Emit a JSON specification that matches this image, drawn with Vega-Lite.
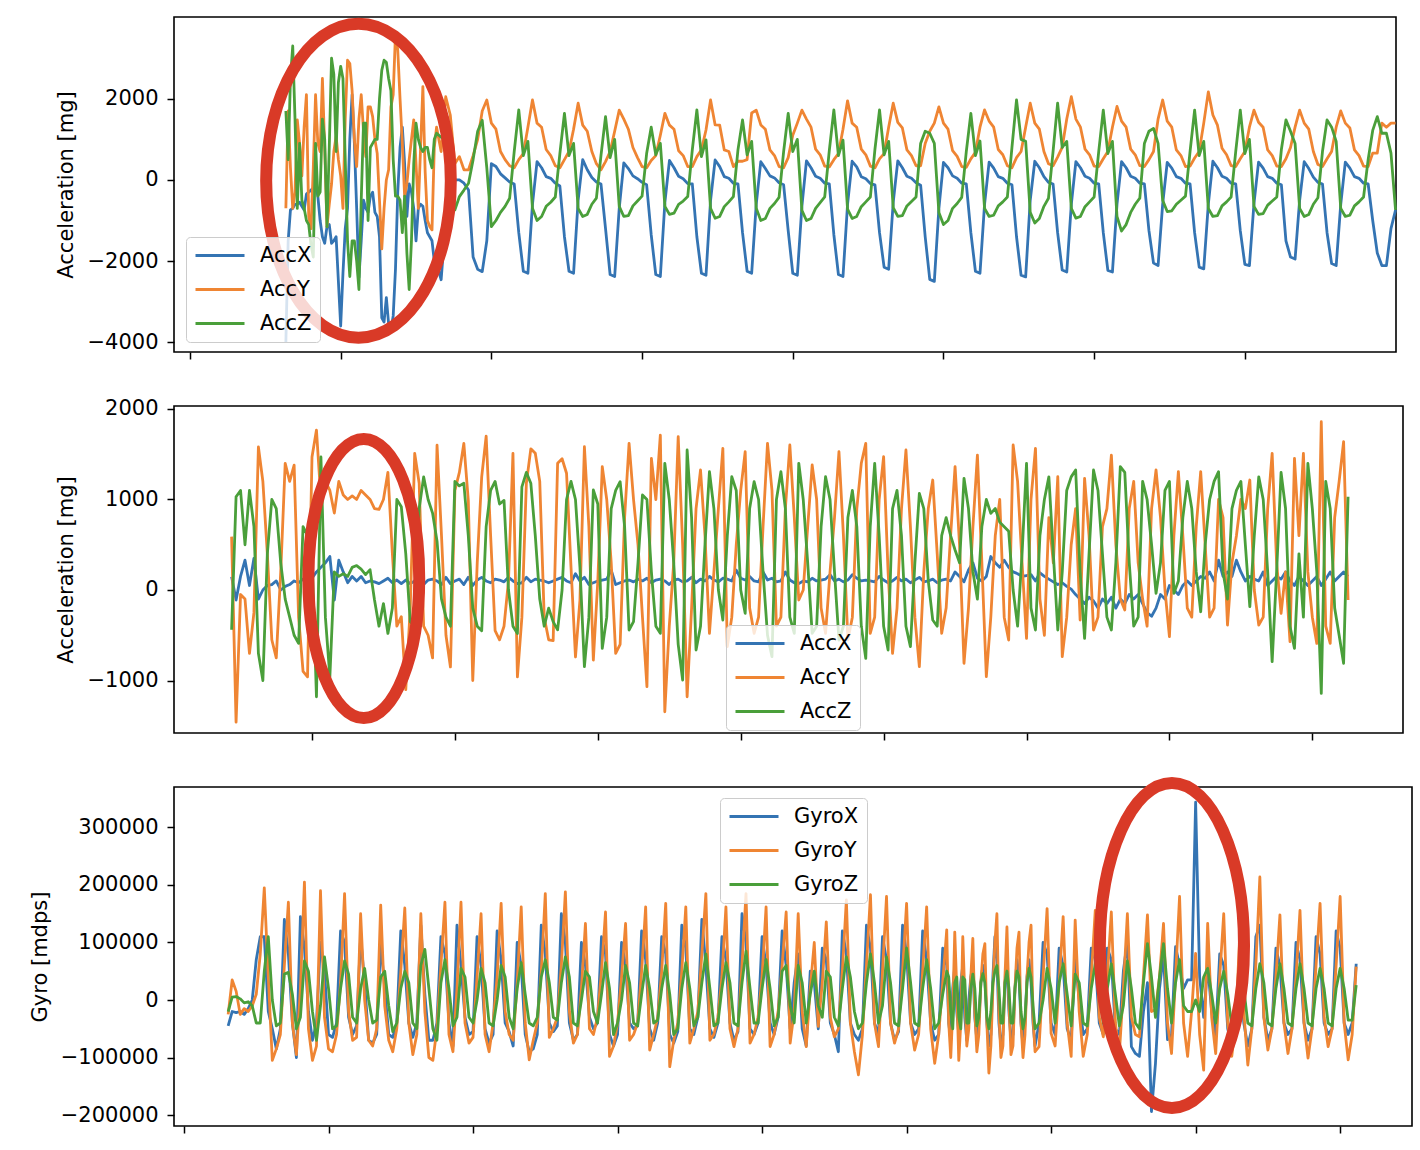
{
  "$schema": "https://vega.github.io/schema/vega-lite/v6.json",
  "padding": {"left": 28, "top": 16, "right": 5, "bottom": 5},
  "background": "white",
  "config": {
    "font": "DejaVu Sans",
    "view": {"stroke": "black", "strokeWidth": 1.6},
    "axis": {
      "grid": false, "domain": false,
      "tickColor": "black", "tickWidth": 1.5, "tickSize": 7,
      "labelColor": "black", "labelFontSize": 21, "labelPadding": 9,
      "titleColor": "black", "titleFontSize": 21, "titleFontWeight": "normal", "titlePadding": 10
    },
    "legend": {
      "symbolType": "stroke", "symbolSize": 2401, "symbolStrokeWidth": 3.5,
      "labelFontSize": 21, "labelColor": "black", "labelOffset": 14,
      "clipHeight": 21, "rowPadding": 12, "padding": 8,
      "fillColor": "rgba(255,255,255,0.8)", "strokeColor": "#cccccc", "cornerRadius": 4
    },
    "line": {"strokeWidth": 2.8, "strokeJoin": "round"}
  },
  "datasets": {
    "p1": [
      {"t":21,"X":-4000,"Y":-700,"Z":1700},{"t":21.5,"X":-1500,"Y":1700,"Z":500},{"t":22,"X":-739,"Y":300,"Z":2500},{"t":22.5,"X":-700,"Y":-700,"Z":3300},
      {"t":23,"X":-600,"Y":-300,"Z":1500},{"t":23.5,"X":-600,"Y":1480,"Z":-700},{"t":24,"X":-550,"Y":900,"Z":900},{"t":24.5,"X":-650,"Y":100,"Z":-500},
      {"t":25,"X":-739,"Y":1300,"Z":-700},{"t":25.5,"X":-350,"Y":2100,"Z":-1000},{"t":26,"X":-300,"Y":-900,"Z":-1100},{"t":26.5,"X":-250,"Y":-1200,"Z":-1600},
      {"t":27,"X":-200,"Y":300,"Z":-1900},{"t":27.5,"X":-100,"Y":2100,"Z":900},{"t":28,"X":-400,"Y":900,"Z":-400},{"t":28.5,"X":-1000,"Y":700,"Z":-300},
      {"t":29,"X":-1400,"Y":2500,"Z":1500},{"t":29.5,"X":-1560,"Y":800,"Z":1000},{"t":30,"X":-1150,"Y":-1150,"Z":-1150},{"t":30.5,"X":-1100,"Y":-600,"Z":800},
      {"t":31,"X":-1560,"Y":-100,"Z":3000},{"t":31.5,"X":-1500,"Y":700,"Z":2600},{"t":32,"X":-1400,"Y":1070,"Z":700},{"t":32.5,"X":-2500,"Y":500,"Z":2400},
      {"t":33,"X":-3600,"Y":100,"Z":2800},{"t":33.5,"X":-2300,"Y":-700,"Z":2500},{"t":34,"X":-1200,"Y":1500,"Z":500},{"t":34.5,"X":-700,"Y":2950,"Z":-1500},
      {"t":35,"X":1000,"Y":2870,"Z":-2380},{"t":35.5,"X":2100,"Y":2200,"Z":-1500},{"t":36,"X":900,"Y":1000,"Z":-1500},{"t":36.5,"X":-700,"Y":330,"Z":-2000},
      {"t":37,"X":-2400,"Y":1500,"Z":-2700},{"t":37.5,"X":-1500,"Y":2100,"Z":-500},{"t":38,"X":-500,"Y":1200,"Z":1400},{"t":38.5,"X":-700,"Y":575,"Z":1400},
      {"t":39,"X":-800,"Y":1800,"Z":-1000},{"t":39.5,"X":-400,"Y":1800,"Z":800},{"t":40,"X":-300,"Y":1560,"Z":900},{"t":40.5,"X":-800,"Y":1000,"Z":1000},
      {"t":41,"X":-900,"Y":650,"Z":1000},{"t":41.5,"X":-1400,"Y":-500,"Z":2000},{"t":42,"X":-3400,"Y":-1700,"Z":2700},{"t":42.5,"X":-3500,"Y":-700,"Z":2950},
      {"t":43,"X":-2900,"Y":0,"Z":2900},{"t":43.5,"X":-3550,"Y":250,"Z":2500},{"t":44,"X":-3700,"Y":1800,"Z":2200},{"t":44.5,"X":-3350,"Y":2100,"Z":500},
      {"t":45,"X":-2200,"Y":3600,"Z":-400},{"t":45.5,"X":-300,"Y":3200,"Z":-400},{"t":46,"X":800,"Y":2000,"Z":-500},{"t":46.5,"X":1300,"Y":900,"Z":-1300},
      {"t":47,"X":400,"Y":-400,"Z":-400},{"t":47.5,"X":-900,"Y":-100,"Z":-1800},{"t":48,"X":-100,"Y":500,"Z":-2700},{"t":48.5,"X":-300,"Y":1000,"Z":-1500},
      {"t":49,"X":-700,"Y":1480,"Z":400},{"t":49.5,"X":-1500,"Y":400,"Z":1400},{"t":50,"X":-700,"Y":-700,"Z":1000},{"t":50.5,"X":-600,"Y":800,"Z":800},
      {"t":51,"X":-650,"Y":2300,"Z":700},{"t":51.5,"X":-1000,"Y":200,"Z":800},{"t":52,"X":-1300,"Y":-1000,"Z":800},{"t":52.5,"X":-1400,"Y":-1150,"Z":500},
      {"t":53,"X":-1500,"Y":-1230,"Z":300},{"t":53.5,"X":-2000,"Y":800,"Z":1000},{"t":54,"X":-2050,"Y":1300,"Z":1150},
      {"t":55,"X":-2460,"Y":700,"Z":1050},{"t":56,"X":-1000,"Y":2050,"Z":1000},{"t":57,"X":0,"Y":1600,"Z":200},{"t":58,"X":0,"Y":400,"Z":-740},
      {"t":59,"X":0,"Y":575,"Z":-410},{"t":60,"X":-80,"Y":250,"Z":-250},
      {"t":61,"X":-250,"Y":250,"Z":-80},{"t":62,"X":-1900,"Y":600,"Z":500},{"t":63,"X":-2200,"Y":1000,"Z":1200},{"t":64,"X":-2260,"Y":1700,"Z":1470},
      {"t":65,"X":-1500,"Y":1970,"Z":300},{"t":66,"X":400,"Y":1400,"Z":-1150},{"t":67,"X":330,"Y":1250,"Z":-1000},{"t":68,"X":150,"Y":700,"Z":-800},
      {"t":69,"X":50,"Y":500,"Z":-650},{"t":70,"X":-50,"Y":350,"Z":-450},
      {"t":71,"X":-100,"Y":300,"Z":700},{"t":72,"X":-1300,"Y":500,"Z":1724},{"t":73,"X":-2250,"Y":650,"Z":600},{"t":74,"X":-2300,"Y":1300,"Z":950},
      {"t":75,"X":-600,"Y":1970,"Z":-700},{"t":76,"X":450,"Y":1400,"Z":-1000},{"t":77,"X":300,"Y":1300,"Z":-900},{"t":78,"X":80,"Y":750,"Z":-650},
      {"t":79,"X":40,"Y":600,"Z":-550},{"t":80,"X":-80,"Y":350,"Z":-420},
      {"t":81,"X":-150,"Y":300,"Z":650},{"t":82,"X":-1400,"Y":500,"Z":1640},{"t":83,"X":-2250,"Y":700,"Z":600},{"t":84,"X":-2300,"Y":1250,"Z":900},
      {"t":85,"X":-500,"Y":1890,"Z":-700},{"t":86,"X":500,"Y":1350,"Z":-900},{"t":87,"X":250,"Y":1200,"Z":-850},{"t":88,"X":60,"Y":700,"Z":-600},
      {"t":89,"X":-50,"Y":400,"Z":-450},
      {"t":90,"X":-100,"Y":250,"Z":600},{"t":91,"X":-1200,"Y":450,"Z":1560},{"t":92,"X":-2330,"Y":700,"Z":550},{"t":93,"X":-2380,"Y":1200,"Z":1000},
      {"t":94,"X":-700,"Y":1720,"Z":-650},{"t":95,"X":420,"Y":1500,"Z":-900},{"t":96,"X":280,"Y":1250,"Z":-880},{"t":97,"X":100,"Y":800,"Z":-640},
      {"t":98,"X":30,"Y":550,"Z":-520},{"t":99,"X":-60,"Y":330,"Z":-400},
      {"t":100,"X":-120,"Y":300,"Z":650},{"t":101,"X":-1350,"Y":480,"Z":1300},{"t":102,"X":-2330,"Y":600,"Z":620},{"t":103,"X":-2380,"Y":1100,"Z":900},
      {"t":104,"X":-550,"Y":1640,"Z":-650},{"t":105,"X":480,"Y":1350,"Z":-850},{"t":106,"X":300,"Y":1250,"Z":-820},{"t":107,"X":90,"Y":720,"Z":-600},
      {"t":108,"X":30,"Y":600,"Z":-520},{"t":109,"X":-90,"Y":330,"Z":-410},
      {"t":110,"X":-100,"Y":330,"Z":740},{"t":111,"X":-1400,"Y":575,"Z":1724},{"t":112,"X":-2300,"Y":740,"Z":575},{"t":113,"X":-2350,"Y":1230,"Z":985},
      {"t":114,"X":-500,"Y":1970,"Z":-700},{"t":115,"X":493,"Y":1355,"Z":-944},{"t":116,"X":328,"Y":1350,"Z":-900},{"t":117,"X":82,"Y":740,"Z":-657},
      {"t":118,"X":41,"Y":700,"Z":-540},{"t":119,"X":-82,"Y":330,"Z":-410},
      {"t":120,"X":-100,"Y":460,"Z":740},{"t":121,"X":-1300,"Y":460,"Z":1478},{"t":122,"X":-2250,"Y":500,"Z":620},{"t":123,"X":-2300,"Y":1650,"Z":950},
      {"t":124,"X":-600,"Y":1720,"Z":-700},{"t":125,"X":450,"Y":1355,"Z":-1000},{"t":126,"X":280,"Y":1250,"Z":-950},{"t":127,"X":100,"Y":740,"Z":-700},
      {"t":128,"X":50,"Y":600,"Z":-580},{"t":129,"X":-70,"Y":330,"Z":-430},
      {"t":130,"X":-120,"Y":300,"Z":700},{"t":131,"X":-1250,"Y":550,"Z":1640},{"t":132,"X":-2300,"Y":1100,"Z":700},{"t":133,"X":-2350,"Y":1400,"Z":1000},
      {"t":134,"X":-650,"Y":1720,"Z":-750},{"t":135,"X":470,"Y":1500,"Z":-1000},{"t":136,"X":300,"Y":1300,"Z":-950},{"t":137,"X":90,"Y":760,"Z":-700},
      {"t":138,"X":40,"Y":620,"Z":-560},{"t":139,"X":-80,"Y":340,"Z":-420},
      {"t":140,"X":-100,"Y":320,"Z":720},{"t":141,"X":-1350,"Y":500,"Z":1724},{"t":142,"X":-2330,"Y":650,"Z":600},{"t":143,"X":-2380,"Y":1250,"Z":980},
      {"t":144,"X":-600,"Y":1950,"Z":-720},{"t":145,"X":460,"Y":1400,"Z":-950},{"t":146,"X":320,"Y":1300,"Z":-900},{"t":147,"X":80,"Y":760,"Z":-660},
      {"t":148,"X":30,"Y":620,"Z":-540},{"t":149,"X":-90,"Y":340,"Z":-420},
      {"t":150,"X":-120,"Y":300,"Z":760},{"t":151,"X":-1300,"Y":520,"Z":1724},{"t":152,"X":-2150,"Y":650,"Z":620},{"t":153,"X":-2200,"Y":1300,"Z":950},
      {"t":154,"X":-550,"Y":1890,"Z":-680},{"t":155,"X":470,"Y":1420,"Z":-900},{"t":156,"X":300,"Y":1280,"Z":-880},{"t":157,"X":90,"Y":740,"Z":-640},
      {"t":158,"X":40,"Y":600,"Z":-530},{"t":159,"X":-70,"Y":350,"Z":-420},
      {"t":160,"X":-130,"Y":350,"Z":900},{"t":161,"X":-1400,"Y":900,"Z":1200},{"t":162,"X":-2450,"Y":1200,"Z":1150},{"t":163,"X":-2500,"Y":1400,"Z":900},
      {"t":164,"X":-700,"Y":1800,"Z":-800},{"t":165,"X":430,"Y":1400,"Z":-1100},{"t":166,"X":300,"Y":1250,"Z":-1000},{"t":167,"X":100,"Y":720,"Z":-700},
      {"t":168,"X":40,"Y":580,"Z":-580},{"t":169,"X":-80,"Y":330,"Z":-430},
      {"t":170,"X":-100,"Y":310,"Z":700},{"t":171,"X":-1300,"Y":520,"Z":1640},{"t":172,"X":-2250,"Y":680,"Z":600},{"t":173,"X":-2300,"Y":1300,"Z":960},
      {"t":174,"X":-600,"Y":1725,"Z":-700},{"t":175,"X":440,"Y":1450,"Z":-900},{"t":176,"X":290,"Y":1300,"Z":-870},{"t":177,"X":80,"Y":750,"Z":-640},
      {"t":178,"X":40,"Y":620,"Z":-540},{"t":179,"X":-80,"Y":350,"Z":-420},
      {"t":180,"X":-120,"Y":300,"Z":800},{"t":181,"X":-1400,"Y":550,"Z":1970},{"t":182,"X":-2350,"Y":700,"Z":1000},{"t":183,"X":-2390,"Y":1300,"Z":950},
      {"t":184,"X":-500,"Y":1890,"Z":-800},{"t":185,"X":460,"Y":1400,"Z":-1060},{"t":186,"X":300,"Y":1250,"Z":-950},{"t":187,"X":80,"Y":700,"Z":-650},
      {"t":188,"X":-60,"Y":400,"Z":-450},
      {"t":189,"X":-100,"Y":350,"Z":700},{"t":190,"X":-1300,"Y":560,"Z":1890},{"t":191,"X":-2220,"Y":800,"Z":800},{"t":192,"X":-2270,"Y":1500,"Z":950},
      {"t":193,"X":-600,"Y":2050,"Z":-700},{"t":194,"X":450,"Y":1500,"Z":-940},{"t":195,"X":300,"Y":1300,"Z":-900},{"t":196,"X":90,"Y":760,"Z":-660},
      {"t":197,"X":40,"Y":620,"Z":-540},{"t":198,"X":-80,"Y":340,"Z":-420},
      {"t":199,"X":-100,"Y":330,"Z":700},{"t":200,"X":-1300,"Y":520,"Z":1720},{"t":201,"X":-2230,"Y":700,"Z":650},{"t":202,"X":-2270,"Y":1300,"Z":950},
      {"t":203,"X":-600,"Y":1810,"Z":-900},{"t":204,"X":450,"Y":1450,"Z":-1260},{"t":205,"X":300,"Y":1300,"Z":-1100},{"t":206,"X":90,"Y":760,"Z":-800},
      {"t":207,"X":40,"Y":620,"Z":-600},{"t":208,"X":-80,"Y":350,"Z":-450},
      {"t":209,"X":-100,"Y":330,"Z":900},{"t":210,"X":-1250,"Y":500,"Z":1200},{"t":211,"X":-2050,"Y":700,"Z":1270},{"t":212,"X":-2110,"Y":1500,"Z":900},
      {"t":213,"X":-600,"Y":1970,"Z":-500},{"t":214,"X":430,"Y":1450,"Z":-780},{"t":215,"X":290,"Y":1300,"Z":-760},{"t":216,"X":80,"Y":740,"Z":-600},
      {"t":217,"X":40,"Y":600,"Z":-500},{"t":218,"X":-80,"Y":330,"Z":-400},
      {"t":219,"X":-100,"Y":340,"Z":700},{"t":220,"X":-1300,"Y":540,"Z":1720},{"t":221,"X":-2150,"Y":700,"Z":600},{"t":222,"X":-2190,"Y":1400,"Z":950},
      {"t":223,"X":-600,"Y":2170,"Z":-700},{"t":224,"X":460,"Y":1600,"Z":-900},{"t":225,"X":300,"Y":1350,"Z":-880},{"t":226,"X":90,"Y":780,"Z":-640},
      {"t":227,"X":40,"Y":620,"Z":-540},{"t":228,"X":-80,"Y":350,"Z":-420},
      {"t":229,"X":-100,"Y":330,"Z":700},{"t":230,"X":-1250,"Y":520,"Z":1720},{"t":231,"X":-2080,"Y":700,"Z":650},{"t":232,"X":-2110,"Y":1300,"Z":1000},
      {"t":233,"X":-580,"Y":1720,"Z":-650},{"t":234,"X":440,"Y":1420,"Z":-850},{"t":235,"X":290,"Y":1300,"Z":-830},{"t":236,"X":80,"Y":740,"Z":-620},
      {"t":237,"X":40,"Y":600,"Z":-520},{"t":238,"X":-80,"Y":340,"Z":-420},
      {"t":239,"X":-120,"Y":330,"Z":750},{"t":240,"X":-1500,"Y":520,"Z":1480},{"t":241,"X":-1900,"Y":800,"Z":1200},{"t":242,"X":-1950,"Y":1300,"Z":900},
      {"t":243,"X":-500,"Y":1720,"Z":-700},{"t":244,"X":450,"Y":1400,"Z":-900},{"t":245,"X":280,"Y":1250,"Z":-850},{"t":246,"X":70,"Y":700,"Z":-600},
      {"t":247,"X":-60,"Y":380,"Z":-440},
      {"t":248,"X":-100,"Y":330,"Z":700},{"t":249,"X":-1300,"Y":520,"Z":1480},{"t":250,"X":-2060,"Y":700,"Z":1300},{"t":251,"X":-2110,"Y":1300,"Z":950},
      {"t":252,"X":-600,"Y":1700,"Z":-700},{"t":253,"X":440,"Y":1400,"Z":-900},{"t":254,"X":290,"Y":1280,"Z":-870},{"t":255,"X":80,"Y":740,"Z":-640},
      {"t":256,"X":40,"Y":600,"Z":-540},{"t":257,"X":-80,"Y":340,"Z":-420},
      {"t":258,"X":-100,"Y":330,"Z":500},{"t":259,"X":-1000,"Y":660,"Z":1220},{"t":260,"X":-1800,"Y":660,"Z":1560},{"t":261,"X":-2110,"Y":1400,"Z":1150},
      {"t":262,"X":-2110,"Y":1300,"Z":1150},{"t":263,"X":-1200,"Y":1400,"Z":660},{"t":264,"X":-740,"Y":1400,"Z":-740}
    ],
    "p2": [
      {"t":14,"X":147,"Y":590,"Z":-440},{"t":15,"X":-111,"Y":-1460,"Z":1030},{"t":16,"X":150,"Y":-50,"Z":1100},{"t":17,"X":330,"Y":-100,"Z":500},
      {"t":18,"X":50,"Y":-700,"Z":1100},{"t":19,"X":350,"Y":-250,"Z":700},{"t":20,"X":-100,"Y":1580,"Z":-700},{"t":21,"X":0,"Y":1200,"Z":-1000},
      {"t":22,"X":50,"Y":400,"Z":400},{"t":23,"X":60,"Y":-550,"Z":1000},{"t":24,"X":100,"Y":-750,"Z":900},{"t":25,"X":0,"Y":200,"Z":300},
      {"t":26,"X":40,"Y":1400,"Z":-100},{"t":27,"X":60,"Y":1200,"Z":-300},{"t":28,"X":100,"Y":1380,"Z":-500},{"t":29,"X":80,"Y":-300,"Z":-590},
      {"t":30,"X":120,"Y":-900,"Z":700},{"t":31,"X":150,"Y":-960,"Z":600},{"t":32,"X":130,"Y":1470,"Z":400},{"t":33,"X":200,"Y":1767,"Z":-1180},
      {"t":34,"X":250,"Y":1000,"Z":1470},{"t":35,"X":300,"Y":1200,"Z":-300},{"t":36,"X":370,"Y":1100,"Z":-960},{"t":37,"X":-111,"Y":850,"Z":200},
      {"t":38,"X":330,"Y":1200,"Z":150},{"t":39,"X":200,"Y":1050,"Z":180},{"t":40,"X":80,"Y":1000,"Z":150},{"t":41,"X":150,"Y":1040,"Z":250},
      {"t":42,"X":100,"Y":1000,"Z":270},{"t":43,"X":150,"Y":1100,"Z":230},{"t":44,"X":80,"Y":1050,"Z":170},{"t":45,"X":100,"Y":1000,"Z":225},
      {"t":46,"X":90,"Y":900,"Z":-111},{"t":47,"X":70,"Y":890,"Z":-400},{"t":48,"X":100,"Y":1000,"Z":-150},{"t":49,"X":130,"Y":1300,"Z":-480},
      {"t":50,"X":80,"Y":400,"Z":-200},{"t":51,"X":110,"Y":-400,"Z":1000},{"t":52,"X":70,"Y":-295,"Z":920},{"t":53,"X":110,"Y":-1100,"Z":400},
      {"t":54,"X":70,"Y":-200,"Z":-350},{"t":55,"X":100,"Y":1510,"Z":-400},{"t":56,"X":180,"Y":1180,"Z":900},{"t":57,"X":60,"Y":-400,"Z":1250},
      {"t":58,"X":110,"Y":-500,"Z":1000},{"t":59,"X":120,"Y":-750,"Z":850},{"t":60,"X":100,"Y":1600,"Z":540},{"t":61,"X":60,"Y":600,"Z":-100},
      {"t":62,"X":140,"Y":-500,"Z":-300},{"t":63,"X":70,"Y":-850,"Z":-400},{"t":64,"X":100,"Y":1100,"Z":1200},{"t":65,"X":120,"Y":1300,"Z":1150},
      {"t":66,"X":60,"Y":1620,"Z":1180},{"t":67,"X":140,"Y":990,"Z":600},{"t":68,"X":50,"Y":-1000,"Z":-200},{"t":69,"X":110,"Y":300,"Z":-400},
      {"t":70,"X":140,"Y":1250,"Z":-450},{"t":71,"X":100,"Y":1700,"Z":700},{"t":72,"X":80,"Y":600,"Z":1100},{"t":73,"X":120,"Y":-450,"Z":1200},
      {"t":74,"X":110,"Y":-550,"Z":950},{"t":75,"X":90,"Y":-400,"Z":990},{"t":76,"X":140,"Y":100,"Z":0},{"t":77,"X":100,"Y":1510,"Z":-400},
      {"t":78,"X":70,"Y":-960,"Z":-480},{"t":79,"X":80,"Y":-300,"Z":1140},{"t":80,"X":140,"Y":1180,"Z":1300},{"t":81,"X":90,"Y":1560,"Z":1180},
      {"t":82,"X":120,"Y":1510,"Z":600},{"t":83,"X":110,"Y":1200,"Z":-100},{"t":84,"X":100,"Y":-300,"Z":-400},{"t":85,"X":80,"Y":-550,"Z":-200},
      {"t":86,"X":100,"Y":-560,"Z":-350},{"t":87,"X":120,"Y":1400,"Z":-440},{"t":88,"X":140,"Y":1450,"Z":0},{"t":89,"X":100,"Y":1290,"Z":1000},
      {"t":90,"X":80,"Y":250,"Z":1200},{"t":91,"X":180,"Y":-740,"Z":1000},{"t":92,"X":100,"Y":-111,"Z":250},{"t":93,"X":140,"Y":1583,"Z":-847},
      {"t":94,"X":60,"Y":700,"Z":-300},{"t":95,"X":80,"Y":-774,"Z":1105},{"t":96,"X":100,"Y":100,"Z":950},{"t":97,"X":110,"Y":1363,"Z":-645},
      {"t":98,"X":120,"Y":1000,"Z":-300},{"t":99,"X":220,"Y":300,"Z":900},{"t":100,"X":60,"Y":-700,"Z":1100},{"t":101,"X":80,"Y":-600,"Z":1197},
      {"t":102,"X":100,"Y":800,"Z":700},{"t":103,"X":110,"Y":1620,"Z":-442},{"t":104,"X":90,"Y":1000,"Z":-350},{"t":105,"X":120,"Y":500,"Z":300},
      {"t":106,"X":100,"Y":-300,"Z":1050},{"t":107,"X":130,"Y":-1068,"Z":1000},{"t":108,"X":80,"Y":1454,"Z":200},{"t":109,"X":110,"Y":1000,"Z":-400},
      {"t":110,"X":120,"Y":1712,"Z":-479},{"t":111,"X":100,"Y":-1345,"Z":1400},{"t":112,"X":60,"Y":-400,"Z":1000},{"t":113,"X":110,"Y":300,"Z":300},
      {"t":114,"X":120,"Y":1694,"Z":-600},{"t":115,"X":90,"Y":500,"Z":-995},{"t":116,"X":100,"Y":-1180,"Z":1547},{"t":117,"X":140,"Y":-200,"Z":800},
      {"t":118,"X":80,"Y":900,"Z":-663},{"t":119,"X":120,"Y":1326,"Z":-400},{"t":120,"X":100,"Y":600,"Z":500},{"t":121,"X":150,"Y":-479,"Z":1307},
      {"t":122,"X":110,"Y":200,"Z":900},{"t":123,"X":90,"Y":900,"Z":0},{"t":124,"X":130,"Y":1565,"Z":-332},{"t":125,"X":120,"Y":-626,"Z":600},
      {"t":126,"X":100,"Y":-300,"Z":1252},{"t":127,"X":220,"Y":500,"Z":1100},{"t":128,"X":130,"Y":1100,"Z":0},{"t":129,"X":110,"Y":1528,"Z":-258},
      {"t":130,"X":150,"Y":-200,"Z":900},{"t":131,"X":100,"Y":-479,"Z":1197},{"t":132,"X":90,"Y":-300,"Z":1000},{"t":133,"X":200,"Y":700,"Z":200},
      {"t":134,"X":110,"Y":1620,"Z":-500},{"t":135,"X":130,"Y":1100,"Z":-737},{"t":136,"X":90,"Y":-400,"Z":1000},{"t":137,"X":100,"Y":-300,"Z":1307},
      {"t":138,"X":200,"Y":900,"Z":900},{"t":139,"X":110,"Y":1602,"Z":-300},{"t":140,"X":80,"Y":800,"Z":-479},{"t":141,"X":70,"Y":-111,"Z":1400},
      {"t":142,"X":100,"Y":0,"Z":1000},{"t":143,"X":90,"Y":700,"Z":300},{"t":144,"X":130,"Y":1381,"Z":-479},{"t":145,"X":100,"Y":1000,"Z":-400},
      {"t":146,"X":110,"Y":-200,"Z":700},{"t":147,"X":120,"Y":-479,"Z":1252},{"t":148,"X":170,"Y":200,"Z":1000},{"t":149,"X":100,"Y":800,"Z":200},
      {"t":150,"X":120,"Y":1528,"Z":-553},{"t":151,"X":90,"Y":600,"Z":-400},{"t":152,"X":110,"Y":-553,"Z":800},{"t":153,"X":170,"Y":-300,"Z":1100},
      {"t":154,"X":130,"Y":900,"Z":700},{"t":155,"X":100,"Y":1400,"Z":-400},{"t":156,"X":110,"Y":1620,"Z":-755},{"t":157,"X":100,"Y":-479,"Z":700},
      {"t":158,"X":90,"Y":-300,"Z":1400},{"t":159,"X":150,"Y":1000,"Z":600},{"t":160,"X":110,"Y":1473,"Z":-400},{"t":161,"X":80,"Y":200,"Z":-663},
      {"t":162,"X":100,"Y":-700,"Z":900},{"t":163,"X":140,"Y":-200,"Z":1100},{"t":164,"X":100,"Y":900,"Z":600},{"t":165,"X":120,"Y":1547,"Z":-400},
      {"t":166,"X":80,"Y":700,"Z":-626},{"t":167,"X":110,"Y":-300,"Z":300},{"t":168,"X":140,"Y":-847,"Z":1068},{"t":169,"X":90,"Y":200,"Z":900},
      {"t":170,"X":100,"Y":900,"Z":100},{"t":171,"X":120,"Y":1215,"Z":-332},{"t":172,"X":80,"Y":400,"Z":-400},{"t":173,"X":110,"Y":-479,"Z":600},
      {"t":174,"X":120,"Y":-200,"Z":800},{"t":175,"X":100,"Y":600,"Z":600},{"t":176,"X":200,"Y":1363,"Z":442},{"t":177,"X":150,"Y":500,"Z":300},
      {"t":178,"X":90,"Y":-810,"Z":1234},{"t":179,"X":220,"Y":-200,"Z":900},{"t":180,"X":300,"Y":700,"Z":200},{"t":181,"X":130,"Y":1491,"Z":-100},
      {"t":182,"X":100,"Y":300,"Z":700},{"t":183,"X":150,"Y":-958,"Z":1000},{"t":184,"X":370,"Y":-300,"Z":847},{"t":185,"X":300,"Y":600,"Z":900},
      {"t":186,"X":250,"Y":1000,"Z":750},{"t":187,"X":330,"Y":-300,"Z":700},{"t":188,"X":250,"Y":-553,"Z":650},{"t":189,"X":200,"Y":1602,"Z":0},
      {"t":190,"X":180,"Y":1200,"Z":-400},{"t":191,"X":150,"Y":300,"Z":400},{"t":192,"X":160,"Y":-534,"Z":1400},{"t":193,"X":170,"Y":1000,"Z":-200},
      {"t":194,"X":100,"Y":1565,"Z":-442},{"t":195,"X":190,"Y":-100,"Z":600},{"t":196,"X":150,"Y":-500,"Z":1000},{"t":197,"X":120,"Y":800,"Z":1250},
      {"t":198,"X":90,"Y":300,"Z":400},{"t":199,"X":60,"Y":1252,"Z":-442},{"t":200,"X":80,"Y":-737,"Z":200},{"t":201,"X":40,"Y":-300,"Z":1100},
      {"t":202,"X":10,"Y":500,"Z":1250},{"t":203,"X":-50,"Y":900,"Z":1326},{"t":204,"X":-100,"Y":-332,"Z":200},{"t":205,"X":-150,"Y":1234,"Z":-534},
      {"t":206,"X":-80,"Y":600,"Z":400},{"t":207,"X":-120,"Y":-442,"Z":1326},{"t":208,"X":-200,"Y":-300,"Z":1100},{"t":209,"X":-100,"Y":700,"Z":400},
      {"t":210,"X":-150,"Y":900,"Z":-300},{"t":211,"X":-80,"Y":1491,"Z":-442},{"t":212,"X":-200,"Y":500,"Z":300},{"t":213,"X":-100,"Y":-100,"Z":1363},
      {"t":214,"X":-150,"Y":-221,"Z":1300},{"t":215,"X":-50,"Y":900,"Z":300},{"t":216,"X":-100,"Y":1200,"Z":-400},{"t":217,"X":-50,"Y":300,"Z":-300},
      {"t":218,"X":-150,"Y":-100,"Z":1200},{"t":219,"X":-250,"Y":-400,"Z":1000},{"t":220,"X":-290,"Y":900,"Z":500},{"t":221,"X":-200,"Y":1326,"Z":-37},
      {"t":222,"X":-50,"Y":800,"Z":300},{"t":223,"X":-100,"Y":0,"Z":1100},{"t":224,"X":50,"Y":-516,"Z":1200},{"t":225,"X":0,"Y":600,"Z":-37},
      {"t":226,"X":-50,"Y":1307,"Z":100},{"t":227,"X":50,"Y":600,"Z":800},{"t":228,"X":100,"Y":-200,"Z":1200},{"t":229,"X":50,"Y":-300,"Z":900},
      {"t":230,"X":100,"Y":700,"Z":200},{"t":231,"X":150,"Y":1307,"Z":-240},{"t":232,"X":130,"Y":500,"Z":500},{"t":233,"X":200,"Y":-300,"Z":1000},
      {"t":234,"X":100,"Y":-200,"Z":1200},{"t":235,"X":330,"Y":1000,"Z":1307},{"t":236,"X":150,"Y":800,"Z":200},{"t":237,"X":200,"Y":-387,"Z":-100},
      {"t":238,"X":150,"Y":300,"Z":900},{"t":239,"X":330,"Y":600,"Z":1100},{"t":240,"X":200,"Y":1000,"Z":1200},{"t":241,"X":100,"Y":900,"Z":500},
      {"t":242,"X":150,"Y":1215,"Z":-184},{"t":243,"X":120,"Y":0,"Z":600},{"t":244,"X":100,"Y":-387,"Z":1250},{"t":245,"X":200,"Y":-300,"Z":1000},
      {"t":246,"X":50,"Y":900,"Z":200},{"t":247,"X":100,"Y":1510,"Z":-792},{"t":248,"X":150,"Y":300,"Z":200},{"t":249,"X":120,"Y":-258,"Z":1300},
      {"t":250,"X":200,"Y":200,"Z":900},{"t":251,"X":100,"Y":-571,"Z":-400},{"t":252,"X":50,"Y":1454,"Z":-645},{"t":253,"X":150,"Y":600,"Z":400},
      {"t":254,"X":100,"Y":1510,"Z":-300},{"t":255,"X":50,"Y":200,"Z":1400},{"t":256,"X":100,"Y":-300,"Z":900},{"t":257,"X":150,"Y":-590,"Z":200},
      {"t":258,"X":50,"Y":1860,"Z":-1142},{"t":259,"X":120,"Y":-400,"Z":1200},{"t":260,"X":200,"Y":-590,"Z":900},{"t":261,"X":100,"Y":800,"Z":-200},
      {"t":262,"X":150,"Y":1200,"Z":-500},{"t":263,"X":200,"Y":1639,"Z":-810},{"t":264,"X":150,"Y":-111,"Z":1031}
    ],
    "p3": [
      {"t":11,"X":-45000,"Y":-25000,"Z":-20000},{"t":12,"X":-20000,"Y":35000,"Z":5000},{"t":13,"X":-22000,"Y":15000,"Z":6000},{"t":14,"X":-20000,"Y":-25000,"Z":2000},
      {"t":15,"X":-25000,"Y":-15000,"Z":-5000},{"t":16,"X":-15000,"Y":-20000,"Z":-3000},{"t":17,"X":0,"Y":-10000,"Z":-10000},{"t":18,"X":70000,"Y":10000,"Z":-40000},
      {"t":19,"X":110000,"Y":80000,"Z":-40000},{"t":20,"X":110000,"Y":195000,"Z":50000},{"t":21,"X":-20000,"Y":40000,"Z":110000},{"t":22,"X":-50000,"Y":-105000,"Z":0},
      {"t":23,"X":-85000,"Y":-85000,"Z":-45000},{"t":24,"X":-50000,"Y":-60000,"Z":-40000},{"t":25,"X":140000,"Y":60000,"Z":45000},{"t":26,"X":80000,"Y":170000,"Z":48000},
      {"t":27,"X":-40000,"Y":-40000,"Z":10000},{"t":28,"X":-100000,"Y":-95000,"Z":-50000},{"t":29,"X":145000,"Y":20000,"Z":-30000},{"t":30,"X":90000,"Y":205000,"Z":68000},
      {"t":31,"X":-20000,"Y":-50000,"Z":50000},{"t":32,"X":-70000,"Y":-105000,"Z":-20000},{"t":33,"X":-40000,"Y":-80000,"Z":-70000},{"t":34,"X":100000,"Y":190000,"Z":-10000},
      {"t":35,"X":50000,"Y":-30000,"Z":75000},{"t":36,"X":-60000,"Y":-85000,"Z":20000},{"t":37,"X":-65000,"Y":-90000,"Z":-50000},{"t":38,"X":-40000,"Y":-60000,"Z":-45000},
      {"t":39,"X":120000,"Y":30000,"Z":20000},{"t":40,"X":100000,"Y":185000,"Z":68000},{"t":41,"X":-30000,"Y":-20000,"Z":45000},{"t":42,"X":-60000,"Y":-70000,"Z":-30000},
      {"t":43,"X":-45000,"Y":-65000,"Z":-40000},{"t":44,"X":110000,"Y":150000,"Z":20000},{"t":45,"X":30000,"Y":0,"Z":55000},{"t":46,"X":-70000,"Y":-70000,"Z":0},
      {"t":47,"X":-75000,"Y":-80000,"Z":-40000},{"t":48,"X":-60000,"Y":-50000,"Z":-35000},{"t":49,"X":100000,"Y":165000,"Z":40000},{"t":50,"X":20000,"Y":-10000,"Z":50000},
      {"t":51,"X":-60000,"Y":-70000,"Z":-10000},{"t":52,"X":-65000,"Y":-90000,"Z":-55000},{"t":53,"X":-40000,"Y":-50000,"Z":-40000},{"t":54,"X":120000,"Y":50000,"Z":20000},
      {"t":55,"X":60000,"Y":160000,"Z":50000},{"t":56,"X":-40000,"Y":-40000,"Z":30000},{"t":57,"X":-65000,"Y":-95000,"Z":-40000},{"t":58,"X":-40000,"Y":-60000,"Z":-50000},
      {"t":59,"X":130000,"Y":150000,"Z":60000},{"t":60,"X":10000,"Y":-20000,"Z":88000},{"t":61,"X":-70000,"Y":-100000,"Z":20000},{"t":62,"X":-70000,"Y":-105000,"Z":-50000},
      {"t":63,"X":-40000,"Y":-50000,"Z":-70000},{"t":64,"X":110000,"Y":60000,"Z":30000},{"t":65,"X":80000,"Y":170000,"Z":70000},{"t":66,"X":-40000,"Y":-60000,"Z":20000},
      {"t":67,"X":-80000,"Y":-90000,"Z":-45000},{"t":68,"X":130000,"Y":20000,"Z":-30000},{"t":69,"X":60000,"Y":170000,"Z":55000},{"t":70,"X":-30000,"Y":-40000,"Z":40000},
      {"t":71,"X":-60000,"Y":-75000,"Z":-30000},{"t":72,"X":-55000,"Y":-65000,"Z":-40000},{"t":73,"X":110000,"Y":40000,"Z":0},{"t":74,"X":60000,"Y":150000,"Z":55000},
      {"t":75,"X":-50000,"Y":-60000,"Z":30000},{"t":76,"X":-75000,"Y":-90000,"Z":-40000},{"t":77,"X":-60000,"Y":-40000,"Z":-45000},{"t":78,"X":120000,"Y":40000,"Z":0},
      {"t":79,"X":70000,"Y":168000,"Z":60000},{"t":80,"X":-40000,"Y":-20000,"Z":40000},{"t":81,"X":-55000,"Y":-60000,"Z":-30000},{"t":82,"X":-80000,"Y":-70000,"Z":-50000},
      {"t":83,"X":100000,"Y":30000,"Z":20000},{"t":84,"X":60000,"Y":162000,"Z":65000},{"t":85,"X":-60000,"Y":-40000,"Z":10000},{"t":86,"X":-90000,"Y":-104000,"Z":-40000},
      {"t":87,"X":-85000,"Y":-70000,"Z":-45000},{"t":88,"X":-60000,"Y":-40000,"Z":-30000},{"t":89,"X":130000,"Y":50000,"Z":40000},{"t":90,"X":80000,"Y":185000,"Z":70000},
      {"t":91,"X":-40000,"Y":-65000,"Z":30000},{"t":92,"X":-55000,"Y":-50000,"Z":-30000},{"t":93,"X":-45000,"Y":-30000,"Z":-35000},{"t":94,"X":150000,"Y":60000,"Z":30000},
      {"t":95,"X":100000,"Y":188000,"Z":75000},{"t":96,"X":-40000,"Y":-20000,"Z":40000},{"t":97,"X":-70000,"Y":-75000,"Z":-40000},{"t":98,"X":-60000,"Y":-60000,"Z":-45000},
      {"t":99,"X":100000,"Y":20000,"Z":0},{"t":100,"X":60000,"Y":133000,"Z":50000},{"t":101,"X":-30000,"Y":-50000,"Z":40000},{"t":102,"X":-50000,"Y":-60000,"Z":-20000},
      {"t":103,"X":-40000,"Y":-30000,"Z":-40000},{"t":104,"X":110000,"Y":50000,"Z":10000},{"t":105,"X":80000,"Y":153000,"Z":65000},{"t":106,"X":-60000,"Y":-98000,"Z":20000},
      {"t":107,"X":-80000,"Y":-80000,"Z":-60000},{"t":108,"X":-60000,"Y":-40000,"Z":-40000},{"t":109,"X":100000,"Y":40000,"Z":0},{"t":110,"X":60000,"Y":133000,"Z":60000},
      {"t":111,"X":-40000,"Y":-70000,"Z":30000},{"t":112,"X":-50000,"Y":-60000,"Z":-40000},{"t":113,"X":-45000,"Y":-40000,"Z":-45000},{"t":114,"X":120000,"Y":50000,"Z":10000},
      {"t":115,"X":70000,"Y":162000,"Z":60000},{"t":116,"X":-50000,"Y":-87000,"Z":20000},{"t":117,"X":-70000,"Y":-60000,"Z":-40000},{"t":118,"X":-40000,"Y":-30000,"Z":-35000},
      {"t":119,"X":110000,"Y":50000,"Z":20000},{"t":120,"X":80000,"Y":168000,"Z":60000},{"t":121,"X":-60000,"Y":-116000,"Z":10000},{"t":122,"X":-75000,"Y":-70000,"Z":-60000},
      {"t":123,"X":-55000,"Y":-40000,"Z":-50000},{"t":124,"X":130000,"Y":50000,"Z":20000},{"t":125,"X":90000,"Y":162000,"Z":65000},{"t":126,"X":-50000,"Y":-75000,"Z":20000},
      {"t":127,"X":-60000,"Y":-50000,"Z":-45000},{"t":128,"X":-30000,"Y":-20000,"Z":-30000},{"t":129,"X":140000,"Y":80000,"Z":30000},{"t":130,"X":60000,"Y":185000,"Z":80000},
      {"t":131,"X":-50000,"Y":-70000,"Z":20000},{"t":132,"X":-65000,"Y":-60000,"Z":-45000},{"t":133,"X":-40000,"Y":-30000,"Z":-40000},{"t":134,"X":110000,"Y":40000,"Z":20000},
      {"t":135,"X":70000,"Y":162000,"Z":65000},{"t":136,"X":-40000,"Y":-50000,"Z":30000},{"t":137,"X":-70000,"Y":-81000,"Z":-40000},{"t":138,"X":-55000,"Y":-50000,"Z":-45000},
      {"t":139,"X":150000,"Y":60000,"Z":30000},{"t":140,"X":100000,"Y":185000,"Z":85000},{"t":141,"X":-50000,"Y":-75000,"Z":20000},{"t":142,"X":-60000,"Y":-60000,"Z":-40000},
      {"t":143,"X":-40000,"Y":-30000,"Z":-40000},{"t":144,"X":110000,"Y":40000,"Z":20000},{"t":145,"X":60000,"Y":162000,"Z":70000},{"t":146,"X":-40000,"Y":-81000,"Z":20000},
      {"t":147,"X":-60000,"Y":-60000,"Z":-45000},{"t":148,"X":-30000,"Y":-20000,"Z":-30000},{"t":149,"X":120000,"Y":60000,"Z":50000},{"t":150,"X":60000,"Y":153000,"Z":60000},
      {"t":151,"X":-50000,"Y":-75000,"Z":-10000},{"t":152,"X":30000,"Y":-20000,"Z":-40000},{"t":153,"X":80000,"Y":150000,"Z":60000},{"t":154,"X":-50000,"Y":-20000,"Z":30000},
      {"t":155,"X":-80000,"Y":-81000,"Z":-40000},{"t":156,"X":50000,"Y":20000,"Z":10000},{"t":157,"X":30000,"Y":100000,"Z":50000},{"t":158,"X":-50000,"Y":-46000,"Z":-10000},
      {"t":159,"X":90000,"Y":30000,"Z":-30000},{"t":160,"X":70000,"Y":136000,"Z":50000},{"t":161,"X":-40000,"Y":-30000,"Z":40000},{"t":162,"X":-60000,"Y":-64000,"Z":-30000},
      {"t":163,"X":-90000,"Y":-50000,"Z":-45000},{"t":164,"X":120000,"Y":50000,"Z":20000},{"t":165,"X":80000,"Y":174000,"Z":75000},{"t":166,"X":-40000,"Y":-40000,"Z":40000},
      {"t":167,"X":-60000,"Y":-90000,"Z":-20000},{"t":168,"X":-70000,"Y":-130000,"Z":-50000},{"t":169,"X":-50000,"Y":-60000,"Z":-40000},{"t":170,"X":130000,"Y":60000,"Z":30000},
      {"t":171,"X":90000,"Y":183000,"Z":80000},{"t":172,"X":-40000,"Y":-40000,"Z":30000},{"t":173,"X":-60000,"Y":-81000,"Z":-40000},{"t":174,"X":110000,"Y":50000,"Z":-10000},
      {"t":175,"X":70000,"Y":180000,"Z":75000},{"t":176,"X":-40000,"Y":-40000,"Z":30000},{"t":177,"X":-70000,"Y":-75000,"Z":-40000},{"t":178,"X":-55000,"Y":-50000,"Z":-45000},
      {"t":179,"X":130000,"Y":50000,"Z":20000},{"t":180,"X":80000,"Y":168000,"Z":90000},{"t":181,"X":-40000,"Y":-40000,"Z":30000},{"t":182,"X":-60000,"Y":-87000,"Z":-40000},
      {"t":183,"X":-50000,"Y":-60000,"Z":-45000},{"t":184,"X":120000,"Y":50000,"Z":20000},{"t":185,"X":70000,"Y":162000,"Z":70000},{"t":186,"X":-40000,"Y":-50000,"Z":20000},
      {"t":187,"X":-70000,"Y":-110000,"Z":-50000},{"t":188,"X":-60000,"Y":-60000,"Z":-40000},{"t":189,"X":90000,"Y":30000,"Z":10000},{"t":190,"X":60000,"Y":122000,"Z":50000},
      {"t":190.5,"X":-40000,"Y":-40000,"Z":40000},{"t":191,"X":-70000,"Y":-100000,"Z":-20000},{"t":191.5,"X":20000,"Y":-20000,"Z":-50000},{"t":192,"X":60000,"Y":118000,"Z":30000},
      {"t":192.5,"X":-20000,"Y":20000,"Z":40000},{"t":193,"X":-60000,"Y":-105000,"Z":-30000},{"t":193.5,"X":30000,"Y":-40000,"Z":-50000},{"t":194,"X":60000,"Y":110000,"Z":40000},
      {"t":194.5,"X":-30000,"Y":10000,"Z":35000},{"t":195,"X":-70000,"Y":-80000,"Z":-40000},{"t":195.5,"X":0,"Y":-50000,"Z":-40000},{"t":196,"X":40000,"Y":40000,"Z":20000},
      {"t":196.5,"X":60000,"Y":107000,"Z":45000},{"t":197,"X":-30000,"Y":-20000,"Z":20000},{"t":197.5,"X":-70000,"Y":-90000,"Z":-45000},{"t":198,"X":-40000,"Y":-60000,"Z":-30000},
      {"t":198.5,"X":30000,"Y":30000,"Z":30000},{"t":199,"X":60000,"Y":80000,"Z":46000},{"t":199.5,"X":40000,"Y":98000,"Z":30000},{"t":200,"X":-40000,"Y":-40000,"Z":-30000},
      {"t":200.5,"X":-80000,"Y":-127000,"Z":-50000},{"t":201,"X":-60000,"Y":-80000,"Z":-20000},{"t":201.5,"X":40000,"Y":20000,"Z":30000},{"t":202,"X":110000,"Y":100000,"Z":50000},
      {"t":202.5,"X":70000,"Y":150000,"Z":60000},{"t":203,"X":-40000,"Y":-20000,"Z":20000},{"t":203.5,"X":-80000,"Y":-100000,"Z":-40000},{"t":204,"X":-60000,"Y":-80000,"Z":-40000},
      {"t":204.5,"X":30000,"Y":40000,"Z":30000},{"t":205,"X":60000,"Y":127000,"Z":50000},{"t":205.5,"X":-20000,"Y":0,"Z":20000},{"t":206,"X":-70000,"Y":-95000,"Z":-40000},
      {"t":206.5,"X":-60000,"Y":-80000,"Z":-40000},{"t":207,"X":20000,"Y":20000,"Z":20000},{"t":207.5,"X":70000,"Y":90000,"Z":50000},{"t":208,"X":40000,"Y":118000,"Z":40000},
      {"t":208.5,"X":-40000,"Y":-40000,"Z":-20000},{"t":209,"X":-80000,"Y":-100000,"Z":-50000},{"t":209.5,"X":-40000,"Y":-60000,"Z":-30000},{"t":210,"X":40000,"Y":40000,"Z":30000},
      {"t":210.5,"X":70000,"Y":100000,"Z":55000},{"t":211,"X":30000,"Y":130000,"Z":40000},{"t":211.5,"X":-40000,"Y":-30000,"Z":-10000},{"t":212,"X":-80000,"Y":-90000,"Z":-50000},
      {"t":213,"X":-40000,"Y":-81000,"Z":-40000},{"t":214,"X":100000,"Y":40000,"Z":0},{"t":215,"X":80000,"Y":159000,"Z":55000},{"t":216,"X":-40000,"Y":-58000,"Z":20000},
      {"t":217,"X":-60000,"Y":-80000,"Z":-40000},{"t":218,"X":90000,"Y":30000,"Z":30000},{"t":219,"X":60000,"Y":145000,"Z":63000},{"t":220,"X":-50000,"Y":-40000,"Z":10000},
      {"t":221,"X":-70000,"Y":-98000,"Z":-45000},{"t":222,"X":70000,"Y":139000,"Z":45000},{"t":223,"X":0,"Y":-20000,"Z":30000},{"t":224,"X":-60000,"Y":-98000,"Z":-40000},
      {"t":225,"X":-50000,"Y":-60000,"Z":-45000},{"t":226,"X":90000,"Y":40000,"Z":20000},{"t":227,"X":70000,"Y":156000,"Z":63000},{"t":228,"X":-40000,"Y":-30000,"Z":20000},
      {"t":229,"X":-60000,"Y":-64000,"Z":-40000},{"t":230,"X":90000,"Y":40000,"Z":20000},{"t":231,"X":70000,"Y":153000,"Z":63000},{"t":232,"X":-50000,"Y":-40000,"Z":10000},
      {"t":233,"X":-60000,"Y":-93000,"Z":-45000},{"t":234,"X":50000,"Y":20000,"Z":-10000},{"t":235,"X":104000,"Y":150000,"Z":68000},{"t":236,"X":-81000,"Y":-30000,"Z":20000},
      {"t":237,"X":-93000,"Y":-60000,"Z":-40000},{"t":238,"X":-98000,"Y":-64000,"Z":-50000},{"t":239,"X":-20000,"Y":40000,"Z":30000},{"t":240,"X":30000,"Y":148000,"Z":98000},
      {"t":241,"X":-194000,"Y":-20000,"Z":40000},{"t":242,"X":-110000,"Y":-17000,"Z":-30000},{"t":243,"X":20000,"Y":40000,"Z":40000},{"t":244,"X":80000,"Y":133000,"Z":98000},
      {"t":245,"X":-69000,"Y":-40000,"Z":20000},{"t":246,"X":-60000,"Y":-93000,"Z":-40000},{"t":247,"X":92700,"Y":40000,"Z":30000},{"t":248,"X":60000,"Y":180000,"Z":70000},
      {"t":249,"X":20000,"Y":-40000,"Z":-10000},{"t":250,"X":35000,"Y":-98000,"Z":-20000},{"t":251,"X":35000,"Y":-20000,"Z":-20000},{"t":252,"X":344000,"Y":81000,"Z":0},
      {"t":253,"X":40000,"Y":-60000,"Z":-20000},{"t":254,"X":-30000,"Y":-122000,"Z":40000},{"t":255,"X":60000,"Y":133000,"Z":55000},{"t":256,"X":-20000,"Y":-30000,"Z":10000},
      {"t":257,"X":-60000,"Y":-93000,"Z":-40000},{"t":258,"X":80000,"Y":40000,"Z":20000},{"t":259,"X":60000,"Y":150000,"Z":50000},{"t":260,"X":-50000,"Y":-40000,"Z":10000},
      {"t":261,"X":-80000,"Y":-98000,"Z":-45000},{"t":262,"X":-60000,"Y":-40000,"Z":-40000},{"t":263,"X":80000,"Y":116000,"Z":30000},{"t":264,"X":-40000,"Y":-20000,"Z":20000},
      {"t":265,"X":-80000,"Y":-113000,"Z":-40000},{"t":266,"X":-50000,"Y":-50000,"Z":-45000},{"t":267,"X":110000,"Y":60000,"Z":20000},{"t":268,"X":130000,"Y":214000,"Z":63000},
      {"t":269,"X":-30000,"Y":-30000,"Z":30000},{"t":270,"X":-70000,"Y":-87000,"Z":-40000},{"t":271,"X":-50000,"Y":-50000,"Z":-45000},{"t":272,"X":90000,"Y":40000,"Z":20000},
      {"t":273,"X":60000,"Y":148000,"Z":63000},{"t":274,"X":-40000,"Y":-40000,"Z":20000},{"t":275,"X":-60000,"Y":-93000,"Z":-40000},{"t":276,"X":-50000,"Y":-50000,"Z":-45000},
      {"t":277,"X":100000,"Y":40000,"Z":20000},{"t":278,"X":70000,"Y":156000,"Z":63000},{"t":279,"X":-40000,"Y":-40000,"Z":20000},{"t":280,"X":-70000,"Y":-101000,"Z":-40000},
      {"t":281,"X":-50000,"Y":-50000,"Z":-45000},{"t":282,"X":110000,"Y":60000,"Z":20000},{"t":283,"X":80000,"Y":168000,"Z":55000},{"t":284,"X":-40000,"Y":-30000,"Z":20000},
      {"t":285,"X":-60000,"Y":-81000,"Z":-40000},{"t":286,"X":-50000,"Y":-50000,"Z":-45000},{"t":287,"X":120000,"Y":60000,"Z":20000},{"t":288,"X":90000,"Y":180000,"Z":55000},
      {"t":289,"X":-40000,"Y":-40000,"Z":20000},{"t":290,"X":-60000,"Y":-104000,"Z":-35000},{"t":291,"X":-40000,"Y":-60000,"Z":-35000},{"t":292,"X":63000,"Y":58000,"Z":26000}
    ]
  },
  "spacing": 54,
  "bounds": "flush",
  "resolve": {
    "scale": {"x": "independent", "y": "independent", "color": "independent"},
    "legend": {"color": "independent"}
  },
  "vconcat": [
    {
      "width": 1222,
      "height": 335,
      "layer": [
        {
          "data": {"name": "p1"},
          "transform": [{"fold": ["X", "Y", "Z"], "as": ["s", "v"]}],
          "mark": "line",
          "encoding": {
            "x": {"field": "t", "type": "quantitative", "scale": {"domain": [-3.5, 264.1], "nice": false, "zero": false},
                  "axis": {"values": [0, 33, 66, 99, 132, 165, 198, 231], "labels": false, "title": null}},
            "y": {"field": "v", "type": "quantitative", "scale": {"domain": [-4240, 4015], "nice": false, "zero": false},
                  "axis": {"values": [-4000, -2000, 0, 2000], "format": "d", "title": "Acceleration [mg]"}},
            "color": {"field": "s", "type": "nominal",
                      "scale": {"domain": ["X", "Y", "Z"], "range": ["#3474b3", "#ef8533", "#4a9f3a"]},
                      "legend": {"title": null, "orient": "none", "legendX": 12, "legendY": 220, "labelExpr": "'Acc' + datum.label"}}
          }
        },
        {
          "data": {"values": [{"t": 36.9, "v": -20}]},
          "mark": {"type": "point", "shape": "M0.543,0C0.543,0.510,0.300,0.923,0,0.923C-0.300,0.923,-0.543,0.510,-0.543,0C-0.543,-0.510,-0.300,-0.923,0,-0.923C0.300,-0.923,0.543,-0.510,0.543,0Z",
                   "size": 115600, "filled": false, "stroke": "#d93a27", "strokeWidth": 12, "strokeJoin": "round", "opacity": 1},
          "encoding": {"x": {"field": "t", "type": "quantitative"}, "y": {"field": "v", "type": "quantitative"}}
        }
      ]
    },
    {
      "width": 1229,
      "height": 327,
      "layer": [
        {
          "data": {"name": "p2"},
          "transform": [{"fold": ["X", "Y", "Z"], "as": ["s", "v"]}],
          "mark": "line",
          "encoding": {
            "x": {"field": "t", "type": "quantitative", "scale": {"domain": [1.1, 276.3], "nice": false, "zero": false},
                  "axis": {"values": [32, 64, 96, 128, 160, 192, 224, 256], "labels": false, "title": null}},
            "y": {"field": "v", "type": "quantitative", "scale": {"domain": [-1580, 2033], "nice": false, "zero": false},
                  "axis": {"values": [-1000, 0, 1000, 2000], "format": "d", "title": "Acceleration [mg]"}},
            "color": {"field": "s", "type": "nominal",
                      "scale": {"domain": ["X", "Y", "Z"], "range": ["#3474b3", "#ef8533", "#4a9f3a"]},
                      "legend": {"title": null, "orient": "none", "legendX": 552, "legendY": 219, "labelExpr": "'Acc' + datum.label"}}
          }
        },
        {
          "data": {"values": [{"t": 43.6, "v": 127}]},
          "mark": {"type": "point", "shape": "M0.326,0C0.326,0.453,0.180,0.821,0,0.821C-0.180,0.821,-0.326,0.453,-0.326,0C-0.326,-0.453,-0.180,-0.821,0,-0.821C0.180,-0.821,0.326,-0.453,0.326,0Z",
                   "size": 115600, "filled": false, "stroke": "#d93a27", "strokeWidth": 12, "strokeJoin": "round", "opacity": 1},
          "encoding": {"x": {"field": "t", "type": "quantitative"}, "y": {"field": "v", "type": "quantitative"}}
        }
      ]
    },
    {
      "width": 1238,
      "height": 339,
      "layer": [
        {
          "data": {"name": "p3"},
          "transform": [{"fold": ["X", "Y", "Z"], "as": ["s", "v"]}],
          "mark": "line",
          "encoding": {
            "x": {"field": "t", "type": "quantitative", "scale": {"domain": [-2.49, 305.9], "nice": false, "zero": false},
                  "axis": {"values": [0, 36, 72, 108, 144, 180, 216, 252, 288], "labels": false, "title": null}},
            "y": {"field": "v", "type": "quantitative", "scale": {"domain": [-219100, 370400], "nice": false, "zero": false},
                  "axis": {"values": [-200000, -100000, 0, 100000, 200000, 300000], "format": "d", "title": "Gyro [mdps]"}},
            "color": {"field": "s", "type": "nominal",
                      "scale": {"domain": ["X", "Y", "Z"], "range": ["#3474b3", "#ef8533", "#4a9f3a"]},
                      "legend": {"title": null, "orient": "none", "legendX": 546, "legendY": 11, "labelExpr": "'Gyro' + datum.label"}}
          }
        },
        {
          "data": {"values": [{"t": 246.1, "v": 94800}]},
          "mark": {"type": "point", "shape": "M0.424,0C0.424,0.528,0.234,0.956,0,0.956C-0.234,0.956,-0.424,0.528,-0.424,0C-0.424,-0.528,-0.234,-0.956,0,-0.956C0.234,-0.956,0.424,-0.528,0.424,0Z",
                   "size": 115600, "filled": false, "stroke": "#d93a27", "strokeWidth": 12, "strokeJoin": "round", "opacity": 1},
          "encoding": {"x": {"field": "t", "type": "quantitative"}, "y": {"field": "v", "type": "quantitative"}}
        }
      ]
    }
  ]
}
